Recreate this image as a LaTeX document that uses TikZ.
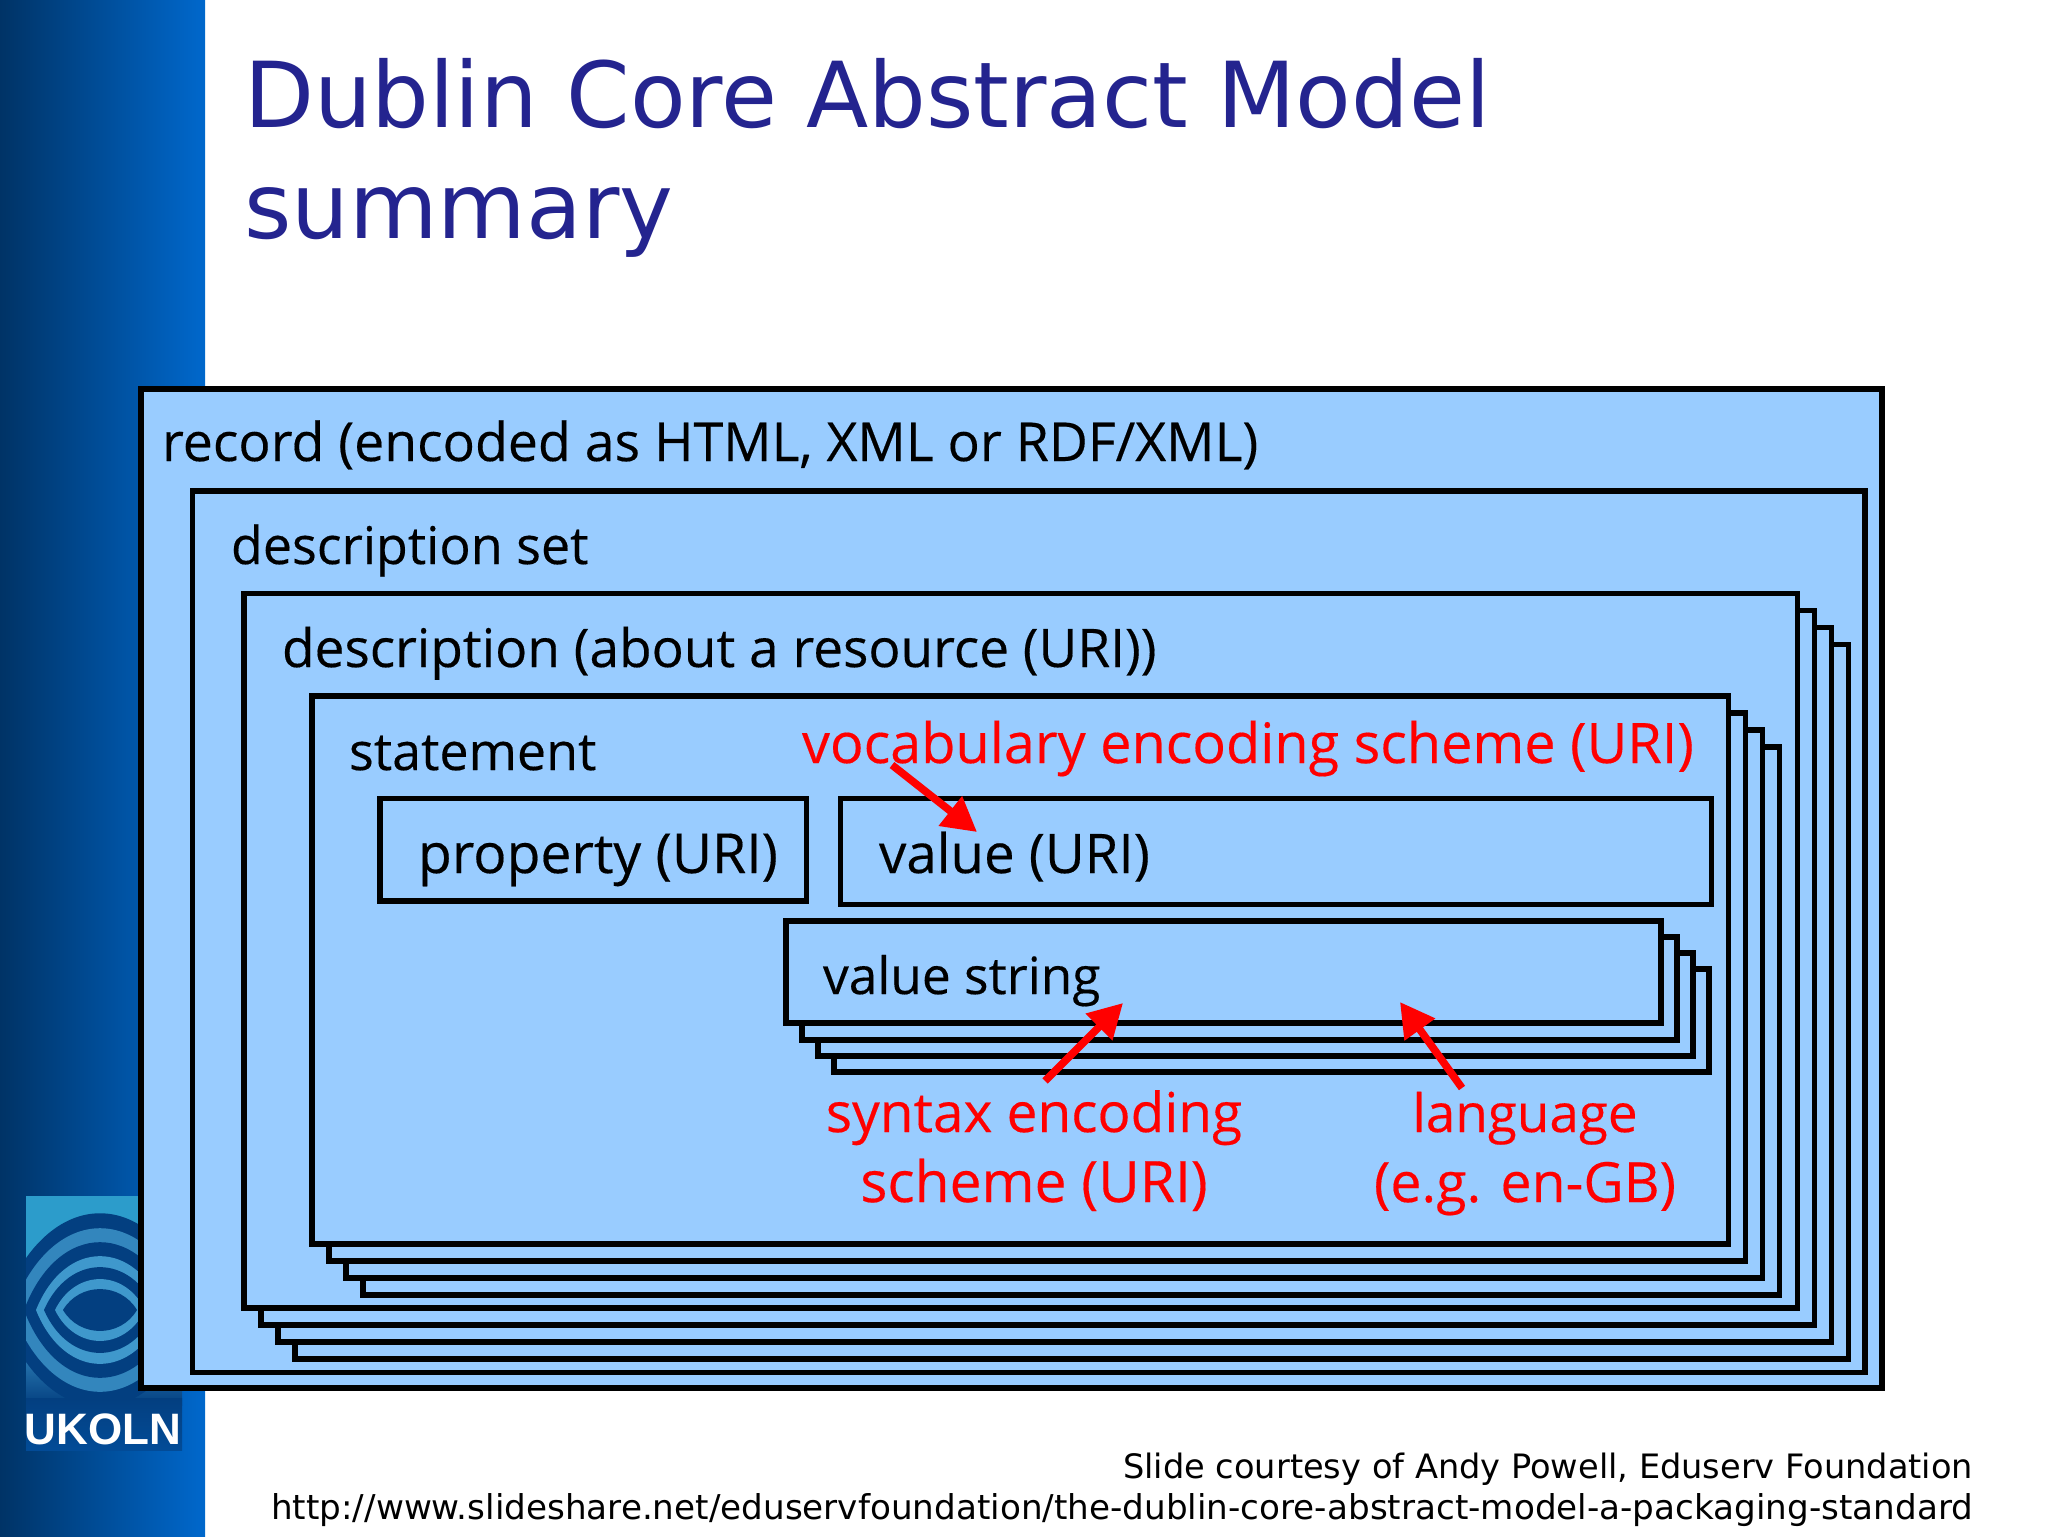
\documentclass[tikz,border=0pt]{standalone}
\usepackage{fontspec}
\setmainfont{DejaVu Sans}
\newfontfamily\handfont[FakeBold=0.3]{Open Sans}
\newfontfamily\logofont{Liberation Sans}
\usetikzlibrary{arrows.meta}
\definecolor{boxblue}{HTML}{99CCFF}
\definecolor{titleblue}{HTML}{24248F}
\definecolor{sideL}{HTML}{003366}
\definecolor{sideR}{HTML}{0068CC}
\definecolor{logoD}{HTML}{033F80}
\definecolor{logoL}{HTML}{3F98CC}
\definecolor{logoT}{HTML}{2C9CCB}
\tikzset{
  boxs/.style={draw=black,fill=boxblue,line width=2.85pt,inner sep=0pt,outer sep=0pt,rectangle,miter limit=10},
  hand/.style={inner sep=0pt,outer sep=0pt,anchor=base west,font=\handfont\fontsize{#1}{30}\selectfont},
  hand/.default=26,
  redhand/.style={hand=#1,text=red},
  redc/.style={hand=#1,anchor=base,text=red},
  titl/.style={inner sep=0pt,outer sep=0pt,anchor=base west,text=titleblue,font=\fontsize{45.5}{50}\selectfont},
  foot/.style={inner sep=0pt,outer sep=0pt,anchor=base east,font=\fontsize{#1}{20}\selectfont},
  redarrow/.style={draw=red,line width=3.8pt,-{Triangle[length=17pt,width=18pt]}}
}
% #1 name, #2 x1, #3 y1, #4 x2, #5 y2 (pixels of the 2048x1536 picture)
\newcommand{\pxbox}[5]{\node[boxs,minimum width={((#4)-(#2))*0.5pt},minimum height={((#5)-(#3))*0.5pt}] (#1) at ({((#2)+(#4))/2},{((#3)+(#5))/2}) {};}
\newcommand{\lens}[3]{\fill[#3] ({100-#1},1310) .. controls ({100-0.55*#1},{1310-1.33*#2}) and ({100+0.55*#1},{1310-1.33*#2}) .. ({100+#1},1310) .. controls ({100+0.55*#1},{1310+1.33*#2}) and ({100-0.55*#1},{1310+1.33*#2}) .. cycle;}
\begin{document}
\begin{tikzpicture}[x=0.5pt,y=-0.5pt]
\useasboundingbox (0,0) rectangle (2048,1536);
\fill[white] (0,0) rectangle (2048,1536);
\shade[left color=sideL,right color=sideR] (0,0) rectangle (205,1536);
% logo
\begin{scope}
\clip (26,1196) rectangle (182,1450);
\fill[logoT] (26,1196) rectangle (182,1330);
\fill[top color=logoL,bottom color=logoD] (26,1330) rectangle (182,1405);
\lens{100}{97}{logoD}
\lens{88}{82}{logoL!80!logoD}
\lens{76}{68}{logoD}
\lens{64}{54}{logoL}
\lens{56}{43}{logoD}
\lens{45}{31}{logoL}
\lens{37}{21}{logoD}
\fill[top color=logoD,bottom color=logoD!70!sideR] (26,1398) rectangle (182,1450);
\end{scope}
\node[inner sep=0pt,anchor=base,text=white,font=\logofont\bfseries\fontsize{22}{24}\selectfont] (logotext) at (103,1444) {UKOLN};
% title
\node[titl] (title1) at (244,127) {Dublin Core Abstract Model};
\node[titl] (title2) at (244,238) {summary};
% nested boxes
\pxbox{record}{141}{389}{1882}{1388}
\pxbox{descset}{192.5}{491}{1865}{1372.5}
\pxbox{descC}{295}{644.5}{1848.5}{1359}
\pxbox{descB}{278}{627.5}{1831.5}{1342}
\pxbox{descA}{261}{610.5}{1814.5}{1325}
\pxbox{desc}{244}{593.5}{1797.5}{1308}
\pxbox{stmtC}{363}{747}{1779.5}{1295}
\pxbox{stmtB}{346}{730}{1762.5}{1278}
\pxbox{stmtA}{329}{713}{1745.5}{1261}
\pxbox{stmt}{312}{696}{1728.5}{1244}
\pxbox{property}{380}{798.5}{806.5}{901}
\pxbox{value}{840.5}{798.5}{1711.5}{904.5}
\pxbox{vsC}{834}{969.3}{1709.3}{1072}
\pxbox{vsB}{818}{953.3}{1693}{1056}
\pxbox{vsA}{802}{937}{1677}{1039.7}
\pxbox{vs}{786}{921}{1661}{1023.3}
% labels
\node[hand=26.8] (lrecord) at (162,461) {record (encoded as HTML, XML or RDF/XML)};
\node[hand=26] (ldescset) at (231,564) {description set};
\node[hand=26.6] (ldesc) at (282,667) {description (about a resource (URI))};
\node[hand=26] (lstmt) at (349,770) {statement};
\node[hand=27.6] (lprop) at (418,873) {property (URI)};
\node[hand=27.3] (lvalue) at (879,873) {value (URI)};
\node[hand=25.7] (lvs) at (823,994) {value string};
\node[redhand=27.9] (lvocab) at (802,763) {vocabulary encoding scheme (URI)};
\node[redc=27.5] (lsyn1) at (1034,1132) {syntax encoding};
\node[redc=28.5] (lsyn2) at (1034,1202) {scheme (URI)};
\node[redc=26.5] (llang1) at (1525,1132) {language};
\node[redc=27.7] (llang2) at (1525,1202) {(e.g. en-GB)};
% arrows
\coordinate (a1s) at (892,765);
\coordinate (a1e) at (977,832);
\coordinate (a2s) at (1045,1081);
\coordinate (a2e) at (1123,1003);
\coordinate (a3s) at (1462,1088);
\coordinate (a3e) at (1400,1002);
\draw[redarrow] (a1s) -- (a1e);
\draw[redarrow] (a2s) -- (a2e);
\draw[redarrow] (a3s) -- (a3e);
% footer
\node[foot=16.8] (f1) at (1973,1478) {Slide courtesy of Andy Powell, Eduserv Foundation};
\node[foot=17.1] (f2) at (1973,1519) {http://www.slideshare.net/eduservfoundation/the-dublin-core-abstract-model-a-packaging-standard};
\end{tikzpicture}
\end{document}
